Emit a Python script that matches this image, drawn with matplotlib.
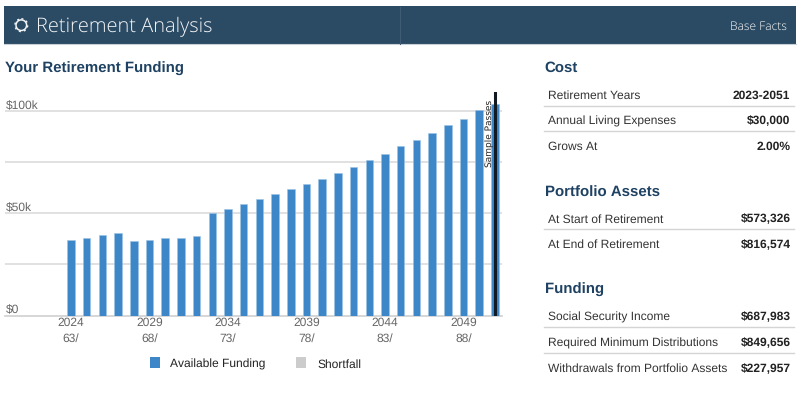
import matplotlib
matplotlib.use("Agg")
import matplotlib.pyplot as plt
from matplotlib.patches import Rectangle, Circle

plt.rcParams["text.hinting"] = "none"
plt.rcParams["text.hinting_factor"] = 1

years = list(range(2024, 2052))
funding = [36800, 37700, 39200, 40200, 36400, 36800, 37700, 38000, 38900, 50300,
           52300, 54400, 56900, 59300, 61800, 64200, 67000, 69800, 72700, 76000,
           79200, 82800, 86100, 89400, 93100, 96200, 100300, 103600]
tick_years = [2024, 2029, 2034, 2039, 2044, 2049]
tick_ages = ["63/", "68/", "73/", "78/", "83/", "88/"]
y_ticks = [0, 50000, 100000]
y_labels = ["$0", "$50k", "$100k"]
y_grid = [25000, 50000, 75000, 100000]
sample_year = 2051

cost_rows = [("Retirement Years", "2023-2051"), ("Annual Living Expenses", "$30,000"), ("Grows At", "2.00%")]
asset_rows = [("At Start of Retirement", "$573,326"), ("At End of Retirement", "$816,574")]
funding_rows = [("Social Security Income", "$687,983"), ("Required Minimum Distributions", "$849,656"),
                ("Withdrawals from Portfolio Assets", "$227,957")]

NAVY = "#2b4a63"
HEAD = "#1f4263"
BLUE = "#3d87c9"
SANS = "Liberation Sans"
W, H = 800, 395

fig = plt.figure(figsize=(W / 100, H / 100), dpi=100, facecolor="white")

# chart axes, positioned in pixels
L, R, T, B = 5, 502, 92, 315.5
ax = fig.add_axes([L / W, 1 - B / H, (R - L) / W, (B - T) / H])
px_per_year = 15.7
ax.set_xlim(2024 - (71 - L) / px_per_year, 2024 + (R - 71) / px_per_year)
ax.set_ylim(0, (B - T) / 102.2 * 50000)
ax.bar(years, funding, width=0.48, color=BLUE, edgecolor="#9cc3e6", linewidth=0.4, zorder=3)
ax.hlines(y_grid, *ax.get_xlim(), color="#dcdcdc", linewidth=1.2, zorder=1)
ax.axvline(sample_year, ymin=0, ymax=1, color="#111a22", linewidth=2.2, zorder=5)
for s in ("top", "left", "right"):
    ax.spines[s].set_visible(False)
ax.spines["bottom"].set_color("#cfcfcf")
ax.spines["bottom"].set_linewidth(1.2)
ax.set_yticks([])
ax.set_xticks(tick_years)
ax.set_xticklabels([f"{y}\n{a}" for y, a in zip(tick_years, tick_ages)],
                   fontfamily=SANS, fontsize=8.8, color="#666666", linespacing=1.5)
ax.tick_params(axis="x", length=0, pad=1.5)
ax.patch.set_alpha(0)
for v, lab in zip(y_ticks, y_labels):
    ax.annotate(lab, (0, v), xycoords=("axes fraction", "data"), xytext=(0.8, -0.3), textcoords="offset points",
                fontfamily=SANS, fontsize=8.8, color="#666666", va="bottom", ha="left", zorder=6)
ax.annotate("Sample Passes", (sample_year, 1), xycoords=("data", "axes fraction"), xytext=(-0.4, -5.8),
            textcoords="offset points", rotation=90, ha="right", va="top",
            fontfamily="DejaVu Sans", fontsize=6.6, color="#222222", zorder=6)

# page overlay in pixel coordinates
ov = fig.add_axes([0, 0, 1, 1], zorder=-1)
ov.set_xlim(0, W)
ov.set_ylim(H, 0)
ov.axis("off")
ov.add_patch(Rectangle((4, 6), 792, 38, facecolor=NAVY, edgecolor="none"))
ov.plot([4, 796], [44.4, 44.4], color="#c9d1d8", linewidth=0.8)
ov.plot([399.5, 399.5], [7, 43.5], color="#3f5c74", linewidth=0.8)

# gear icon
cx, cy = 21.3, 25.2
ov.add_patch(Circle((cx, cy), 5.3, facecolor="none", edgecolor="#f2f4f6", linewidth=1.1))
ov.add_patch(Circle((cx, cy), 6.4, facecolor="none", edgecolor="#f2f4f6", linewidth=1.0, linestyle=(0, (1.5, 2.2))))

ov.text(35.5, 32.5, "Retirement Analysis", fontfamily="Open Sans", fontweight=300, fontsize=14.4,
        color="#f4f6f8", va="baseline", ha="left")
ov.text(787, 29.5, "Base Facts", fontfamily="Open Sans", fontweight=300, fontsize=8.8,
        color="#ffffff", va="baseline", ha="right")
ov.text(5, 73, "Your Retirement Funding", fontfamily=SANS, fontweight="bold", fontsize=10.9,
        color=HEAD, va="baseline", ha="left")


def section(title, title_y, rows, first_y):
    ov.text(544.6, title_y + 4.6, title, fontfamily=SANS, fontweight="bold", fontsize=11, color=HEAD,
            va="baseline", ha="left")
    for i, (label, val) in enumerate(rows):
        y = first_y + i * 25.8
        ov.text(548, y + 4.6, label, fontfamily=SANS, fontsize=8.4, color="#333333", va="baseline", ha="left")
        ov.text(790.4, y + 4.6, val, fontfamily=SANS, fontweight="bold", fontsize=8.5, color="#222222", va="baseline", ha="right")
        if i < len(rows) - 1:
            ov.plot([544, 794], [y + 11.5, y + 11.5], color="#d4d4d4", linewidth=1.0)


section("Cost", 67, cost_rows, 94)
section("Portfolio Assets", 192, asset_rows, 217.8)
section("Funding", 289.6, funding_rows, 315.9)

# legend
ov.add_patch(Rectangle((149.5, 356.5), 10, 11, facecolor=BLUE, edgecolor="none"))
ov.text(170, 367.4, "Available Funding", fontfamily=SANS, fontsize=8.3, color="#222222", va="baseline", ha="left")
ov.add_patch(Rectangle((296, 356.5), 10, 11, facecolor="#cccccc", edgecolor="none"))
ov.text(317, 367.4, "Shortfall", fontfamily=SANS, fontsize=8.3, color="#222222", va="baseline", ha="left")

fig.savefig("out.png", dpi=100, facecolor="white")
